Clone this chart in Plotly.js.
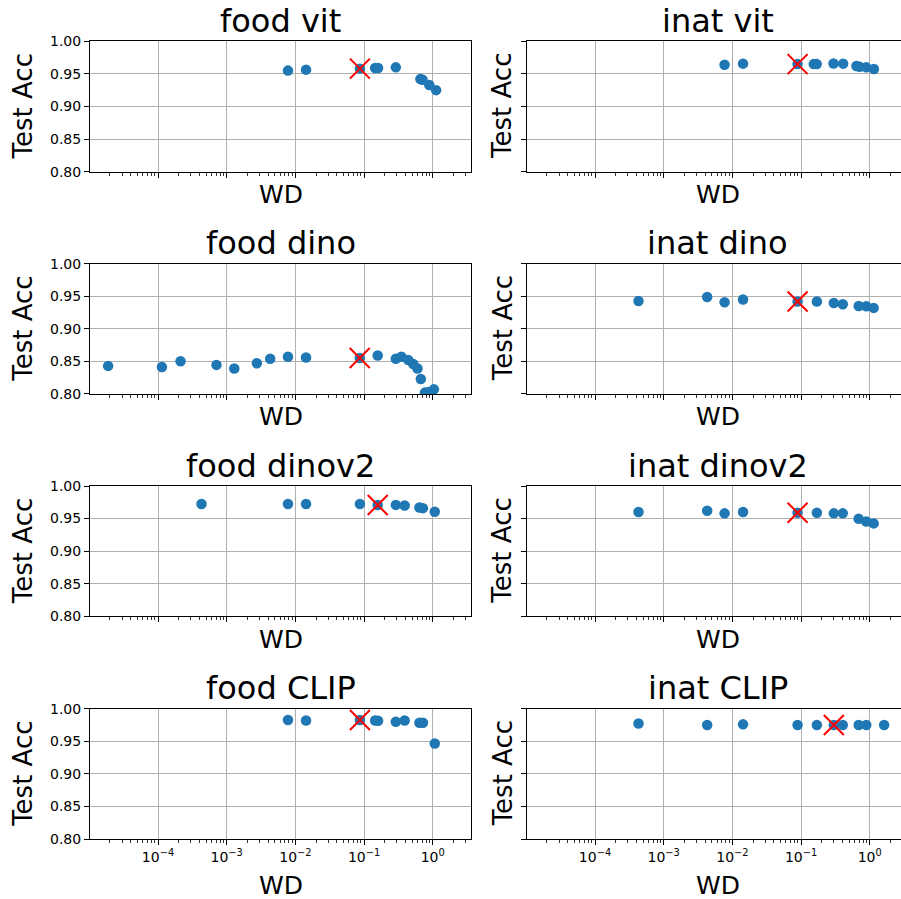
<!DOCTYPE html>
<html>
<head>
<meta charset="utf-8">
<script src="https://cdn.plot.ly/plotly-3.0.1.min.js"></script>
<style>
  html, body { margin: 0; padding: 0; overflow: hidden; background: #fff; }
  #chart { width: 910px; height: 899px; }
</style>
</head>
<body>
<div id="chart"></div>
<script>
// ---------------- data ----------------
const titles = ["food vit", "inat vit", "food dino", "inat dino", "food dinov2", "inat dinov2", "food CLIP", "inat CLIP"];

const food_vit_wd  = [0.0078, 0.0143, 0.087, 0.145, 0.16, 0.29, 0.66, 0.71, 0.89, 1.12];
const food_vit_acc = [0.955, 0.9565, 0.958, 0.959, 0.959, 0.960, 0.942, 0.941, 0.933, 0.925];
const food_vit_best_wd = [0.087], food_vit_best_acc = [0.958];

const inat_vit_wd  = [0.0077, 0.0143, 0.089, 0.153, 0.169, 0.297, 0.41, 0.64, 0.71, 0.89, 1.15];
const inat_vit_acc = [0.964, 0.9657, 0.965, 0.965, 0.965, 0.966, 0.9657, 0.962, 0.961, 0.960, 0.9575];
const inat_vit_best_wd = [0.089], inat_vit_best_acc = [0.965];

const food_dino_wd  = [1.88e-5, 1.14e-4, 2.13e-4, 7.1e-4, 1.29e-3, 2.75e-3, 4.3e-3, 7.8e-3, 0.0143, 0.0865, 0.158, 0.29, 0.35, 0.44, 0.52, 0.60, 0.67, 0.77, 0.875, 1.04];
const food_dino_acc = [0.843, 0.8414, 0.850, 0.8445, 0.839, 0.847, 0.854, 0.857, 0.856, 0.855, 0.859, 0.854, 0.857, 0.852, 0.846, 0.839, 0.823, 0.802, 0.803, 0.807];
const food_dino_best_wd = [0.0865], food_dino_best_acc = [0.855];

const inat_dino_wd  = [4.3e-4, 4.3e-3, 7.7e-3, 0.0143, 0.089, 0.17, 0.30, 0.405, 0.69, 0.89, 1.14];
const inat_dino_acc = [0.9427, 0.9488, 0.9407, 0.9448, 0.9417, 0.9417, 0.9396, 0.9376, 0.935, 0.9345, 0.932];
const inat_dino_best_wd = [0.089], inat_dino_best_acc = [0.9417];

const food_dinov2_wd  = [4.3e-4, 0.0078, 0.0143, 0.087, 0.158, 0.29, 0.39, 0.64, 0.72, 1.07];
const food_dinov2_acc = [0.9723, 0.9723, 0.9723, 0.9723, 0.9708, 0.971, 0.970, 0.967, 0.966, 0.9605];
const food_dinov2_best_wd = [0.158], food_dinov2_best_acc = [0.9708];

const inat_dinov2_wd  = [4.3e-4, 4.3e-3, 7.7e-3, 0.0143, 0.089, 0.17, 0.30, 0.405, 0.69, 0.89, 1.14];
const inat_dinov2_acc = [0.960, 0.962, 0.958, 0.960, 0.959, 0.959, 0.958, 0.958, 0.9497, 0.9456, 0.9426];
const inat_dinov2_best_wd = [0.089], inat_dinov2_best_acc = [0.959];

const food_clip_wd  = [0.0078, 0.0143, 0.087, 0.145, 0.16, 0.29, 0.39, 0.64, 0.72, 1.07];
const food_clip_acc = [0.9826, 0.982, 0.9826, 0.982, 0.9815, 0.980, 0.982, 0.9785, 0.9785, 0.9467];
const food_clip_best_wd = [0.087], food_clip_best_acc = [0.9826];

const inat_clip_wd  = [4.3e-4, 4.3e-3, 0.0143, 0.089, 0.17, 0.30, 0.405, 0.69, 0.89, 1.62];
const inat_clip_acc = [0.9774, 0.975, 0.976, 0.975, 0.975, 0.975, 0.975, 0.975, 0.975, 0.975];
const inat_clip_best_wd = [0.30], inat_clip_best_acc = [0.975];

const xTickVals = [1e-4, 1e-3, 1e-2, 1e-1, 1];
const xTickText = ["10<sup>\u22124</sup>", "10<sup>\u22123</sup>", "10<sup>\u22122</sup>", "10<sup>\u22121</sup>", "10<sup>0</sup>"];
const yTickVals = [0.80, 0.85, 0.90, 0.95, 1.00];
const yTickText = ["0.80", "0.85", "0.90", "0.95", "1.00"];
const xTitle = "WD", yTitle = "Test Acc";

const series = [
  [food_vit_wd, food_vit_acc, food_vit_best_wd, food_vit_best_acc],
  [inat_vit_wd, inat_vit_acc, inat_vit_best_wd, inat_vit_best_acc],
  [food_dino_wd, food_dino_acc, food_dino_best_wd, food_dino_best_acc],
  [inat_dino_wd, inat_dino_acc, inat_dino_best_wd, inat_dino_best_acc],
  [food_dinov2_wd, food_dinov2_acc, food_dinov2_best_wd, food_dinov2_best_acc],
  [inat_dinov2_wd, inat_dinov2_acc, inat_dinov2_best_wd, inat_dinov2_best_acc],
  [food_clip_wd, food_clip_acc, food_clip_best_wd, food_clip_best_acc],
  [inat_clip_wd, inat_clip_acc, inat_clip_best_wd, inat_clip_best_acc]
];

// ---------------- layout ----------------
const W = 910, H = 899;
const FONT = "DejaVu Sans, sans-serif";
const cols = [[90, 471], [527, 908]];
const rowTops = [41.3, 263.6, 486, 708.7];
const rowH = 130.3;
const px2x = p => p / W;
const px2y = p => 1 - p / H;

// minor log tick positions (2..9 x 10^k)
const minorVals = [];
for (let k = -6; k <= 1; k++) for (let m = 2; m <= 9; m++) minorVals.push(m * Math.pow(10, k));

const traces = [];
const layout = {
  width: W, height: H,
  margin: {l: 0, r: 0, t: 0, b: 0},
  paper_bgcolor: "#fff", plot_bgcolor: "#fff",
  showlegend: false,
  font: {family: FONT, color: "#000", size: 14},
  annotations: []
};

for (let i = 0; i < 8; i++) {
  const r = Math.floor(i / 2), c = i % 2;
  const n = i + 1;
  const xa = "x" + (n === 1 ? "" : n), ya = "y" + (n === 1 ? "" : n);
  const xkey = "xaxis" + (n === 1 ? "" : n), ykey = "yaxis" + (n === 1 ? "" : n);
  const [x0, x1] = cols[c];
  const top = rowTops[r], bot = top + rowH;
  const [wd, acc, bwd, bacc] = series[i];

  traces.push({
    type: "scatter", mode: "markers", x: wd, y: acc, xaxis: xa, yaxis: ya,
    marker: {color: "#1f77b4", size: 10.5, line: {width: 0}},
    hoverinfo: "skip", cliponaxis: true
  });
  traces.push({
    type: "scatter", mode: "markers", x: bwd, y: bacc, xaxis: xa, yaxis: ya,
    marker: {symbol: "x-thin-open", color: "#ff0000", size: 20, line: {width: 2, color: "#ff0000"}},
    hoverinfo: "skip", cliponaxis: true
  });

  layout[xkey] = {
    type: "log", range: [-4.99, 0.557],
    domain: [px2x(x0), px2x(x1)], anchor: ya,
    tickmode: "array", tickvals: xTickVals, ticktext: xTickText,
    showticklabels: r === 3,
    ticks: "outside", ticklen: 5, tickwidth: 1, tickcolor: "#000",
    tickfont: {family: FONT, size: 14, color: "#000"},
    showgrid: true, gridcolor: "#b0b0b0", gridwidth: 1,
    zeroline: false, showline: true, linecolor: "#000", linewidth: 1, mirror: true,
    minor: {ticks: "outside", ticklen: 3, tickwidth: 0.8, tickcolor: "#000",
            tickmode: "array", tickvals: minorVals, showgrid: false},
    fixedrange: true
  };
  layout[ykey] = {
    range: [0.8, 1.0],
    domain: [px2y(bot), px2y(top)], anchor: xa,
    tickmode: "array", tickvals: yTickVals, ticktext: yTickText,
    showticklabels: c === 0,
    ticks: "outside", ticklen: 5, tickwidth: 1, tickcolor: "#000",
    tickfont: {family: FONT, size: 14, color: "#000"},
    showgrid: true, gridcolor: "#b0b0b0", gridwidth: 1,
    zeroline: false, showline: true, linecolor: "#000", linewidth: 1, mirror: true,
    fixedrange: true
  };

  // subplot title
  layout.annotations.push({
    text: titles[i], xref: "paper", yref: "paper",
    x: px2x((x0 + x1) / 2), y: px2y(top - 20.5),
    xanchor: "center", yanchor: "middle", showarrow: false,
    font: {family: FONT, size: 32, color: "#000"}
  });
  // x axis title
  layout.annotations.push({
    text: xTitle, xref: "paper", yref: "paper",
    x: px2x((x0 + x1) / 2), y: px2y(bot + (r === 3 ? 46 : 23)),
    xanchor: "center", yanchor: "middle", showarrow: false,
    font: {family: FONT, size: 25, color: "#000"}
  });
  // y axis title
  layout.annotations.push({
    text: yTitle, xref: "paper", yref: "paper",
    x: px2x(c === 0 ? 23 : 502.5), y: px2y((top + bot) / 2),
    xanchor: "center", yanchor: "middle", textangle: -90, showarrow: false,
    font: {family: FONT, size: 26, color: "#000"}
  });
}

Plotly.newPlot("chart", traces, layout, {displayModeBar: false, staticPlot: true});
</script>
</body>
</html>
